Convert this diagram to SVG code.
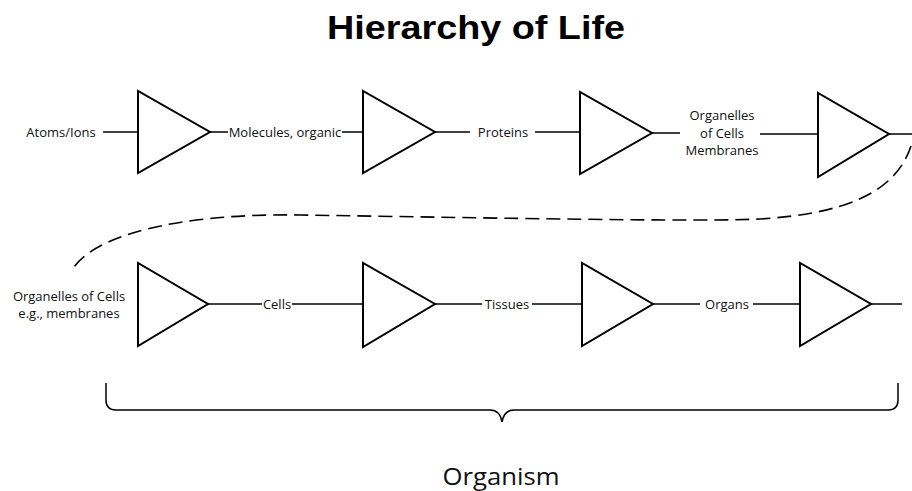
<svg xmlns="http://www.w3.org/2000/svg" width="912" height="491" viewBox="0 0 912 491">
<style>
.tri{fill:#fff;stroke:#000;stroke-width:2;stroke-linejoin:miter}
.ln{stroke:#000;stroke-width:1.5;fill:none}
.dash{stroke:#000;stroke-width:1.6;fill:none;stroke-dasharray:14 7}
.lbl{font-family:"Open Sans","Liberation Sans",sans-serif;font-size:13px;fill:#111}
.title{font-family:"Liberation Sans",Arial,sans-serif;font-size:34px;font-weight:bold;fill:#000}
.big{font-family:"Open Sans","Liberation Sans",sans-serif;font-size:24px;fill:#111}
</style>
<rect width="912" height="491" fill="#fff"/>
<text class="title" x="476" y="39" text-anchor="middle" textLength="298" lengthAdjust="spacingAndGlyphs">Hierarchy of Life</text>

<g id="connectors">
<line class="ln" x1="103" y1="132" x2="138" y2="132"/>
<line class="ln" x1="210" y1="132" x2="228" y2="132"/>
<line class="ln" x1="342" y1="132" x2="363" y2="132"/>
<line class="ln" x1="435" y1="132" x2="470" y2="132"/>
<line class="ln" x1="535" y1="132" x2="580" y2="132"/>
<line class="ln" x1="652" y1="133" x2="680" y2="133"/>
<line class="ln" x1="760" y1="134" x2="818" y2="134"/>
<line class="ln" x1="889" y1="134" x2="912" y2="134"/>
<path class="dash" d="M 911 146 C 895 195 840 214 760 219 C 700 222 500 218 300 215 C 180 213 90 235 71 272"/>
<line class="ln" x1="208" y1="304" x2="262" y2="304"/>
<line class="ln" x1="292" y1="304" x2="363" y2="304"/>
<line class="ln" x1="435" y1="304" x2="482" y2="304"/>
<line class="ln" x1="532" y1="304" x2="582" y2="304"/>
<line class="ln" x1="653" y1="304" x2="700" y2="304"/>
<line class="ln" x1="753" y1="304" x2="800" y2="304"/>
<line class="ln" x1="871" y1="304" x2="902" y2="304"/>
</g>

<g id="atoms"><text class="lbl" x="61" y="137" text-anchor="middle">Atoms/Ions</text></g>
<g id="tri1"><polygon class="tri" points="138,91 138,173 210,132"/></g>
<g id="molecules"><text class="lbl" x="285" y="137" text-anchor="middle">Molecules, organic</text></g>
<g id="tri2"><polygon class="tri" points="363,91 363,173 435,132"/></g>
<g id="proteins"><text class="lbl" x="503" y="137" text-anchor="middle">Proteins</text></g>
<g id="tri3"><polygon class="tri" points="580,92 580,174 652,133"/></g>
<g id="organelles1"><text class="lbl" text-anchor="middle"><tspan x="722" y="120">Organelles</tspan><tspan x="722" y="137.5">of Cells</tspan><tspan x="722" y="155">Membranes</tspan></text></g>
<g id="tri4"><polygon class="tri" points="818,93 818,177 889,134"/></g>

<g id="organelles2"><text class="lbl" text-anchor="middle"><tspan x="69" y="301">Organelles of Cells</tspan><tspan x="69" y="318">e.g., membranes</tspan></text></g>
<g id="tri5"><polygon class="tri" points="138,263 138,346 208,304"/></g>
<g id="cells"><text class="lbl" x="277" y="309" text-anchor="middle">Cells</text></g>
<g id="tri6"><polygon class="tri" points="363,263 363,347 435,304"/></g>
<g id="tissues"><text class="lbl" x="507" y="309" text-anchor="middle">Tissues</text></g>
<g id="tri7"><polygon class="tri" points="582,263 582,346 653,304"/></g>
<g id="organs"><text class="lbl" x="727" y="309" text-anchor="middle">Organs</text></g>
<g id="tri8"><polygon class="tri" points="800,263 800,346 871,304"/></g>

<g id="brace">
<path class="ln" d="M 106 383 L 106 400 Q 106 410 116 410 L 490 410 Q 500 410 502 422 Q 504 410 514 410 L 888 410 Q 898 410 898 400 L 898 383"/>
</g>
<g id="organism"><text class="big" x="501" y="485" text-anchor="middle" textLength="117" lengthAdjust="spacingAndGlyphs">Organism</text></g>
</svg>
